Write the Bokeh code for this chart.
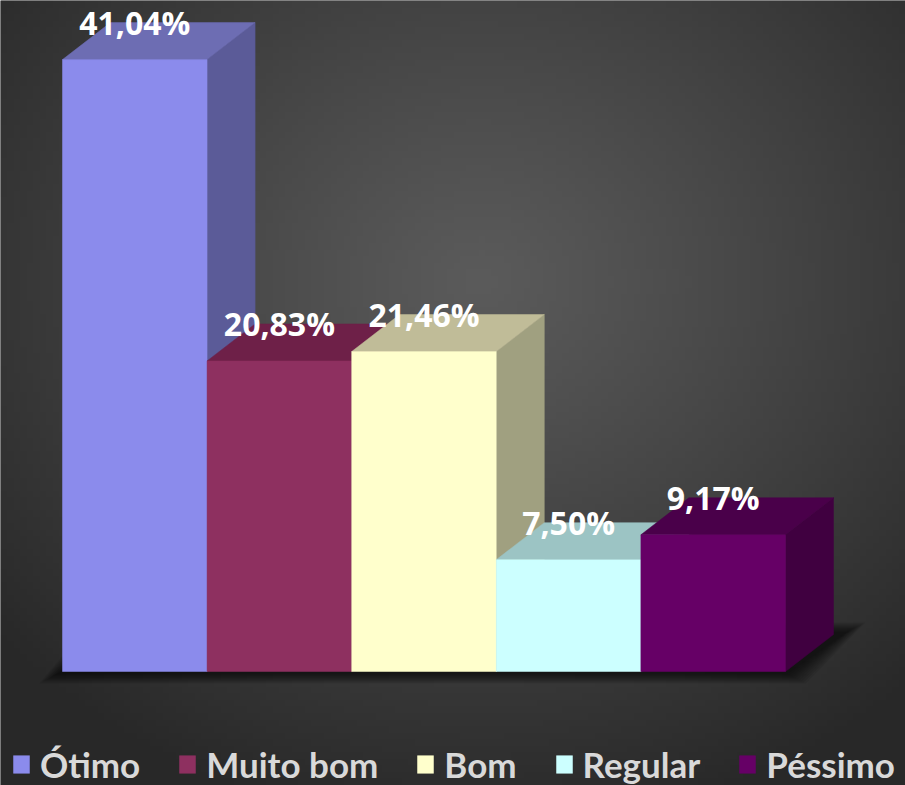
import numpy as np
from bokeh.plotting import figure
from bokeh.models import ColumnDataSource, Legend, LegendItem
from bokeh.core.properties import value
from bokeh.embed import file_html
from bokeh.resources import INLINE

# ---- data ----
categories = ["Ótimo", "Muito bom", "Bom", "Regular", "Péssimo"]
percent = [41.04, 20.83, 21.46, 7.50, 9.17]

# ---- style ----
front_colors = ["#8b8bec", "#8e3060", "#ffffcc", "#ccffff", "#660066"]
top_colors = ["#6d6db3", "#6e2048", "#c0bc98", "#9cc4c4", "#4a004a"]
side_colors = ["#5b5b98", "#5a1a3c", "#a0a080", "#8aa8a8", "#400040"]

W, H = 905, 785
OFF = 0
# reference pixel geometry -> data ranges
bar_px = 144.6
unit_px = 14.91
x0 = (OFF - 62) / bar_px
x1 = (OFF + W - 62) / bar_px
y_top = (671 - OFF) / unit_px
y_bot = (671 - (OFF + H)) / unit_px
DX = 48 / bar_px
DY = 37 / unit_px

p = figure(width=W, height=H, x_range=(x0, x1), y_range=(y_bot, y_top),
           output_backend="svg", toolbar_location=None, min_border=0,
           x_axis_location=None, y_axis_location=None)
p.grid.visible = False
p.outline_line_color = None
p.background_fill_color = "#383838"
p.border_fill_color = "#383838"

# background radial gradient
ny, nx = 120, 140
yy, xx = np.mgrid[0:ny, 0:nx]
px_x = xx / (nx - 1) * W + OFF
px_y = (1 - yy / (ny - 1)) * H + OFF
r = np.sqrt(((px_x - 480) / 640) ** 2 + ((px_y - 280) / 560) ** 2)
t = np.clip(r, 0, 1) ** 1.1
g = (0x5b + (0x28 - 0x5b) * t).astype(np.uint32)
img = (255 << 24) | (g << 16) | (g << 8) | g
p.image_rgba(image=[img.astype(np.uint32)], x=x0, y=y_bot, dw=x1 - x0, dh=y_top - y_bot)

# soft drop shadow of the bar block on the floor (many faint layers)
n = len(categories)
L = 10
for k in range(L):
    ex = 0.014 * (L - k)
    ey = 0.07 * (L - k)
    xs = [-0.02 - ex, n + ex, n + DX + 0.08 + ex, DX - ex]
    ys = [-0.1 - ey, -0.1 - ey, DY + 0.1 + ey, DY + 0.1 + ey]
    p.patch(xs, ys, fill_color="black", fill_alpha=0.075, line_alpha=0)

# 3D bars, painted bar by bar (side, top, front)
xs_all, ys_all, cols, front_idx = [], [], [], []
for i, v in enumerate(percent):
    l, rr = i, i + 1
    xs_all.append([rr, rr + DX, rr + DX, rr]); ys_all.append([0, DY, v + DY, v]); cols.append(side_colors[i])
    xs_all.append([l, rr, rr + DX, l + DX]); ys_all.append([v, v, v + DY, v + DY]); cols.append(top_colors[i])
    xs_all.append([l, rr, rr, l]); ys_all.append([0, 0, v, v]); cols.append(front_colors[i])
    front_idx.append(len(cols) - 1)

src = ColumnDataSource(dict(xs=xs_all, ys=ys_all, color=cols))
faces = p.patches("xs", "ys", source=src, fill_color="color", line_color="color", line_width=0.5)

# data labels
lab_src = ColumnDataSource(dict(
    x=[i + 0.5 for i in range(n)],
    y=[v + DY for v in percent],
    text=[f"{v:.2f}".replace(".", ",") + "%" for v in percent]))
p.text("x", "y", text="text", source=lab_src, text_align="center", text_baseline="middle",
       text_color="white", text_font=value("Open Sans"), text_font_style="bold",
       text_font_size="32px")

legend = Legend(items=[LegendItem(label=c, renderers=[faces], index=front_idx[i])
                       for i, c in enumerate(categories)],
                orientation="horizontal", location=(11, 0))
legend.background_fill_alpha = 0
legend.border_line_alpha = 0
legend.label_text_color = "#d9d9d9"
legend.label_text_font = "Lato"
legend.label_text_font_style = "bold"
legend.label_text_font_size = "35px"
legend.glyph_width = 20
legend.glyph_height = 22
legend.label_standoff = 9
legend.spacing = 37
legend.padding = 0
legend.margin = 0
p.add_layout(legend)

open("out.html", "w").write(file_html(p, INLINE))
